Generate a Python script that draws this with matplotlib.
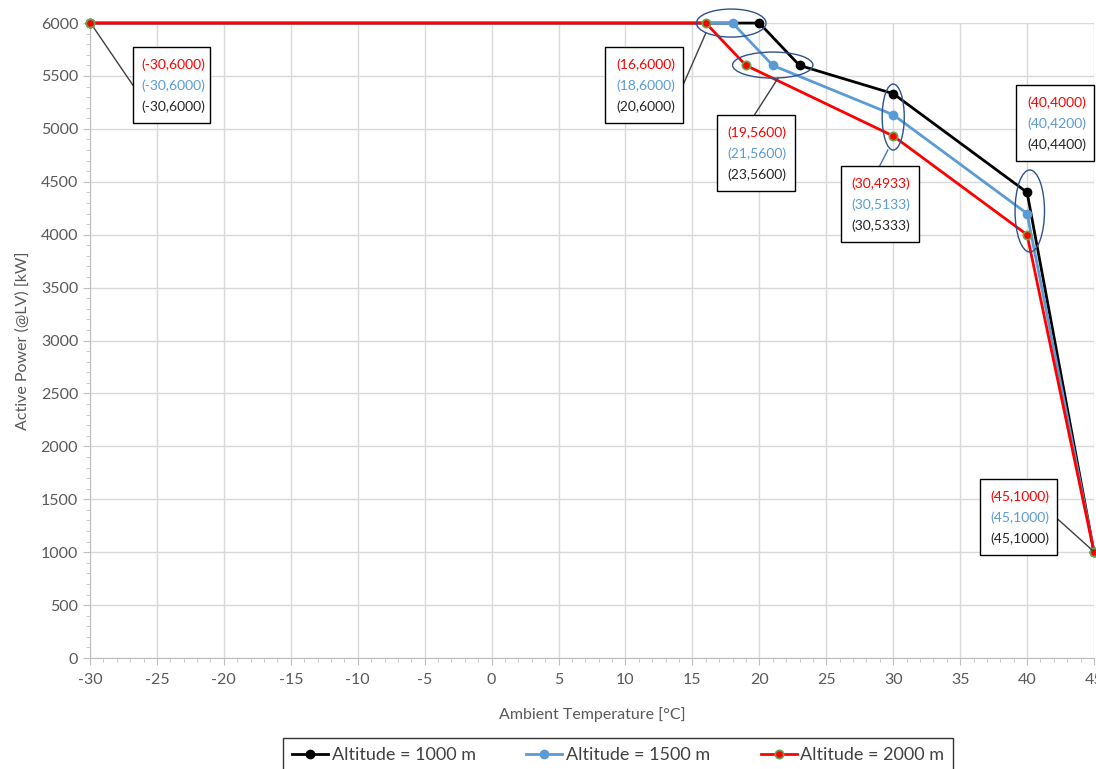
import matplotlib.pyplot as plt
from matplotlib.patches import Ellipse, Rectangle
from matplotlib.ticker import MultipleLocator

plt.rcParams['font.family'] = ['Lato', 'DejaVu Sans']
plt.rcParams['axes.unicode_minus'] = False

# data
temp_1000 = [-30, 20, 23, 30, 40, 45]
power_1000 = [6000, 6000, 5600, 5333, 4400, 1000]
temp_1500 = [-30, 18, 21, 30, 40, 45]
power_1500 = [6000, 6000, 5600, 5133, 4200, 1000]
temp_2000 = [-30, 16, 19, 30, 40, 45]
power_2000 = [6000, 6000, 5600, 4933, 4000, 1000]
labels = ['Altitude = 1000 m', 'Altitude = 1500 m', 'Altitude = 2000 m']

BLACK = '#000000'
BLUE = '#5B9BD5'
RED = '#FF0000'
GRID = '#D9D9D9'
AXIS = '#BFBFBF'
TXT = '#595959'

fig = plt.figure(figsize=(10.96, 7.69), dpi=100)
ax = fig.add_axes([0.0821, 0.1443, 0.9161, 0.8257])

ax.plot(temp_1000, power_1000, color=BLACK, lw=2, marker='o', ms=6,
        label=labels[0], zorder=3, clip_on=False)
ax.plot(temp_1500, power_1500, color=BLUE, lw=2, marker='o', ms=6,
        label=labels[1], zorder=4, clip_on=False)
ax.plot(temp_2000, power_2000, color=RED, lw=2, marker='o', ms=6,
        mec='#6aa84f', mew=1.2, label=labels[2], zorder=5, clip_on=False)

ax.set_xlim(-30, 45)
ax.set_ylim(0, 6000)
ax.xaxis.set_major_locator(MultipleLocator(5))
ax.xaxis.set_minor_locator(MultipleLocator(1))
ax.yaxis.set_major_locator(MultipleLocator(500))
ax.yaxis.set_minor_locator(MultipleLocator(100))
ax.grid(True, which='major', color=GRID, lw=1)
ax.set_axisbelow(True)
for s in ['top', 'right']:
    ax.spines[s].set_visible(False)
for s in ['left', 'bottom']:
    ax.spines[s].set_color(AXIS)
ax.tick_params(which='major', length=5, color=AXIS, labelsize=11.5,
               labelcolor=TXT)
ax.tick_params(which='minor', length=3, color=AXIS)
ax.tick_params(axis='x', pad=6)

ax.set_xlabel('Ambient Temperature [°C]', fontsize=11.5, color=TXT, labelpad=14)
ax.set_ylabel('Active Power (@LV) [kW]', fontsize=11.5, color=TXT, labelpad=8)

# ellipses around point groups
ell_color = '#2F528F'
for cx, cy, w, h in [(17.9, 6000, 5.2, 265), (21.0, 5603, 6.0, 246),
                     (30.0, 5112, 1.65, 624), (40.2, 4224, 2.2, 775)]:
    ax.add_patch(Ellipse((cx, cy), w, h, fill=False, ec=ell_color, lw=1,
                         zorder=6, clip_on=False))

# annotation boxes: index of the point, box centre, leader line
bw, bh = 5.8, 718
dy = 198
boxes = [
    (0, (-23.9, 5414), [(-29.7, 5953), (-26.8, 5414)]),
    (1, (11.4, 5414), [(16.0, 5905), (14.3, 5414)]),
    (2, (19.75, 4776), [(21.4, 5480), (19.65, 5135)]),
    (3, (29.0, 4294), [(29.6, 4800), (29.0, 4653)]),
    (4, (42.1, 5055), [(40.3, 4780), (41.7, 4696)]),
    (5, (39.35, 1337), [(44.95, 1010), (42.25, 1317)]),
]
for i, (cx, cy), line in boxes:
    lc = '#4472C4' if i == 3 else '#404040'
    ax.plot([line[0][0], line[1][0]], [line[0][1], line[1][1]], color=lc,
            lw=1, zorder=6, clip_on=False)
    ax.add_patch(Rectangle((cx - bw / 2, cy - bh / 2), bw, bh, fc='white',
                           ec='#000000', lw=1, zorder=7, clip_on=False))
    for k, (xs, ys, c) in enumerate([(temp_2000, power_2000, RED),
                                     (temp_1500, power_1500, BLUE),
                                     (temp_1000, power_1000, '#262626')]):
        ax.text(cx + 0.1, cy + dy - k * dy - 10, f'({xs[i]},{ys[i]})',
                color=c, fontsize=10, ha='center', va='center', zorder=8,
                clip_on=False)

fig.legend(loc='upper center', bbox_to_anchor=(0.564, 0.040), ncol=3,
           frameon=True, fancybox=False, edgecolor='#000000', fontsize=13,
           handlelength=2.0, handletextpad=0.2, columnspacing=2.8,
           borderpad=0.5, borderaxespad=0, labelcolor='#404040')

fig.savefig('out.png', dpi=100)
